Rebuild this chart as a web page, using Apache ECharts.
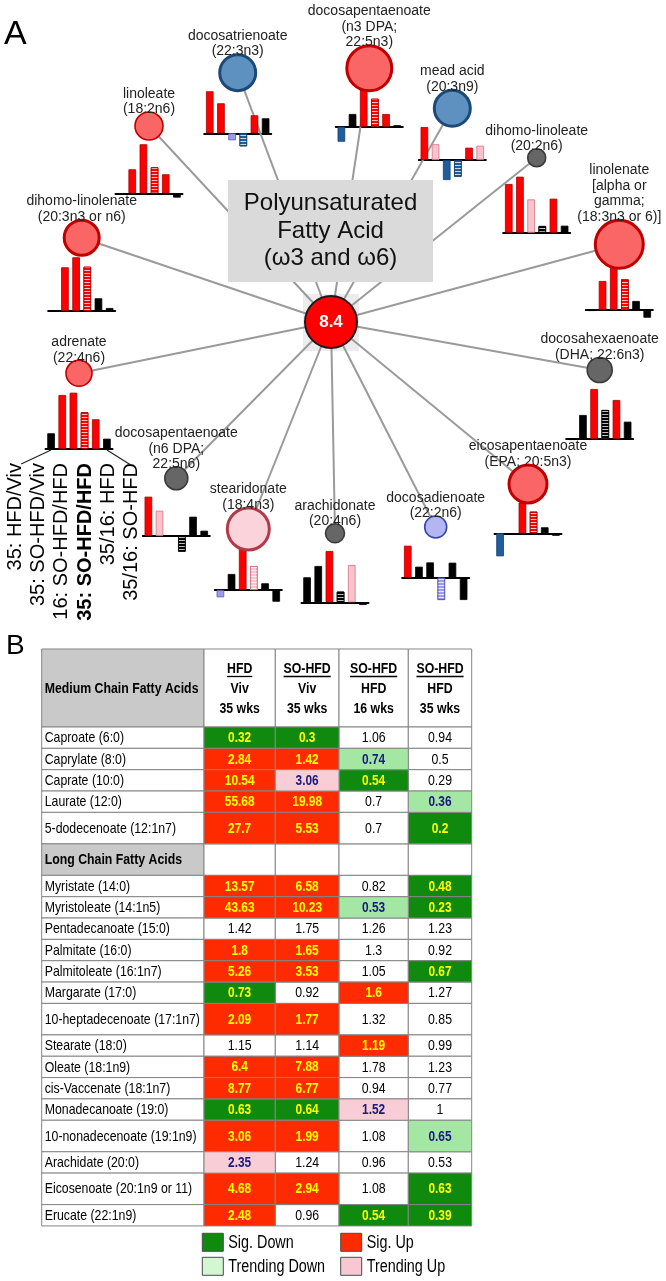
<!DOCTYPE html>
<html>
<head>
<meta charset="utf-8">
<script src="https://cdn.jsdelivr.net/npm/echarts@6/dist/echarts.min.js"></script>
<style>
  html, body { margin: 0; padding: 0; background: #fff; }
  #chart { width: 666px; height: 1281px; }
</style>
</head>
<body>
<div id="chart"></div>
<script>
// ---------- panel A data ----------
const centerValue = '8.4'
const acidLabels = [
  'docosatrienoate\n(22:3n3)',
  'docosapentaenoate\n(n3 DPA;\n22:5n3)',
  'mead acid\n(20:3n9)',
  'dihomo-linoleate\n(20:2n6)',
  'linolenate\n[alpha or\ngamma;\n(18:3n3 or 6)]',
  'docosahexaenoate\n(DHA; 22:6n3)',
  'eicosapentaenoate\n(EPA; 20:5n3)',
  'docosadienoate\n(22:2n6)',
  'arachidonate\n(20:4n6)',
  'stearidonate\n(18:4n3)',
  'docosapentaenoate\n(n6 DPA;\n22:5n6)',
  'adrenate\n(22:4n6)',
  'dihomo-linolenate\n(20:3n3 or n6)',
  'linoleate\n(18:2n6)'
]
// U sig up, u trending up, n not sig, D sig down, d trending down
const acidStatus = ['D', 'U', 'D', 'n', 'U', 'n', 'U', 'd', 'n', 'u', 'n', 'U', 'U', 'U']
const barGroups = ['35: HFD/Viv', '35: SO-HFD/Viv', '16: SO-HFD/HFD', '35: SO-HFD/HFD', '35/16: HFD', '35/16: SO-HFD']
// bar heights (relative units, no axis in the source)
const barHeights = [
  [42, 30, -7, -13, 18, 15],
  [-15, 12.7, 37, 28, 12.7, 1.5],
  [33, 15.7, -20, -16.7, 12.3, 14.3],
  [48.7, 56, 33.3, 6.7, 34, 7],
  [-1, 29, 46.7, 30.7, 9, -7.7],
  [-1, 24, 50, 29, 39, 17.3],
  [-23, -1.5, 30.7, 21.7, 6, -2.5],
  [32, 11, 15.3, -22.3, 15, -22.3],
  [25, 36.3, 51.3, 10.7, 37.3, -2.7],
  [-7.3, 16, 41.7, 24, 6.7, -11.7],
  [39.3, 25.3, 0, -15.7, 19.3, 5.3],
  [15.7, 54, 56.3, 36.7, 29.7, 10.3],
  [0.5, 43.7, 53.7, 44.3, 12.7, 3],
  [-1, 24, 49, 26, 19, -4.3]
]
const barStatus = ['UUdDUn', 'DnUUUn', 'UuDDUu', 'UUunUn', 'nUUUnn', 'nnUnUn', 'DnUUnn',
  'Unndnn', 'nnUnun', 'dnUunn', 'Uunnnn', 'nUUUUn', 'nUUUnn', 'nUUUUn']

// ---------- panel B data ----------
const colTop = ['HFD', 'SO-HFD', 'SO-HFD', 'SO-HFD']
const colMid = ['Viv', 'Viv', 'HFD', 'HFD']
const colWeeks = ['35 wks', '35 wks', '16 wks', '35 wks']
const mediumAcids = ['Caproate (6:0)', 'Caprylate (8:0)', 'Caprate (10:0)', 'Laurate (12:0)', '5-dodecenoate (12:1n7)']
const mediumValues = [
  [0.32, 0.3, 1.06, 0.94],
  [2.84, 1.42, 0.74, 0.5],
  [10.54, 3.06, 0.54, 0.29],
  [55.68, 19.98, 0.7, 0.36],
  [27.7, 5.53, 0.7, 0.2]
]
const mediumStatus = ['DDnn', 'UUdn', 'UuDn', 'UUnd', 'UUnD']
const longAcids = ['Myristate (14:0)', 'Myristoleate (14:1n5)', 'Pentadecanoate (15:0)', 'Palmitate (16:0)',
  'Palmitoleate (16:1n7)', 'Margarate (17:0)', '10-heptadecenoate (17:1n7)', 'Stearate (18:0)',
  'Oleate (18:1n9)', 'cis-Vaccenate (18:1n7)', 'Monadecanoate (19:0)', '10-nonadecenoate (19:1n9)',
  'Arachidate (20:0)', 'Eicosenoate (20:1n9 or 11)', 'Erucate (22:1n9)']
const longValues = [
  [13.57, 6.58, 0.82, 0.48],
  [43.63, 10.23, 0.53, 0.23],
  [1.42, 1.75, 1.26, 1.23],
  [1.8, 1.65, 1.3, 0.92],
  [5.26, 3.53, 1.05, 0.67],
  [0.73, 0.92, 1.6, 1.27],
  [2.09, 1.77, 1.32, 0.85],
  [1.15, 1.14, 1.19, 0.99],
  [6.4, 7.88, 1.78, 1.23],
  [8.77, 6.77, 0.94, 0.77],
  [0.63, 0.64, 1.52, 1],
  [3.06, 1.99, 1.08, 0.65],
  [2.35, 1.24, 0.96, 0.53],
  [4.68, 2.94, 1.08, 0.63],
  [2.48, 0.96, 0.54, 0.39]
]
const longStatus = ['UUnD', 'UUdD', 'nnnn', 'UUnn', 'UUnD', 'DnUn', 'UUnn', 'nnUn', 'UUnn', 'UUnn',
  'DDun', 'UUnd', 'unnn', 'UUnD', 'UnDD']

// ---------- layout & style ----------
const SANS = 'Liberation Sans, Arial, sans-serif'
const NARROW_X = 0.82   // no narrow face installed: squeeze Liberation Sans instead
// node centre x, y, diameter, baseline of its little bar chart
const nodeLayout = [
  [237.7, 72.7, 36, 133.3], [369.3, 68.3, 45, 126.7], [452.3, 108.3, 36, 160],
  [536.7, 157.7, 18, 232.7], [619.3, 244.3, 48, 310], [599.7, 370, 25, 439],
  [528, 484, 38, 533.3], [435.7, 527, 22, 577.7], [335, 533.3, 19, 602.3],
  [248.3, 529, 42, 590], [176.3, 478.3, 23, 536], [79, 373.3, 26, 449],
  [81.7, 237.7, 35, 311], [149, 126, 28, 193.3]
]
const centerPos = [331, 322, 52]
const nodeFill = { U: '#fa6565', u: '#fbd3da', n: '#666666', D: '#5f91c0', d: '#b3b6f2' }
const nodeBorder = { U: '#c00000', u: '#b23a48', n: '#3a3a3a', D: '#1b4a78', d: '#3548a8' }
const barFill = { U: '#ff0000', u: '#f9c3cd', n: '#000000', D: '#1f5d9c', d: '#9c9cec' }
const barBorder = { U: '#a50000', u: '#d9707f', n: '#000000', D: '#123f6e', d: '#5a5ab0' }
const chartW = 67

const colEdges = [41.7, 204, 275.3, 339, 408.3, 471.7]
const tableTop = 649
const headerH = 78
const rowH = 21.34
const tallH = 31.5
const tallRows = ['5-dodecenoate (12:1n7)', 'Long Chain Fatty Acids', '10-heptadecenoate (17:1n7)',
  '10-nonadecenoate (19:1n9)', 'Eicosenoate (20:1n9 or 11)']
const statusNames = { D: 'Sig. Down', U: 'Sig. Up', d: 'Trending Down', u: 'Trending Up', n: 'none' }
const cellFill = { D: '#0f8a0f', U: '#ff2b00', d: '#a4e7a4', u: '#f8cdd6', n: '#ffffff' }
const cellText = { D: '#ffff00', U: '#ffff00', d: '#1a1a7e', u: '#1a1a7e', n: '#000000' }
const legendFill = { D: '#0f8a0f', U: '#ff2b00', d: '#d3f6d3', u: '#f6c8d3' }

const mctx = document.createElement('canvas').getContext('2d')
function textWidth (t, font) {
  mctx.font = font
  return mctx.measureText(t).width
}
// horizontally squeezed text element
function narrowText (t, x, y, opts) {
  return {
    type: 'text', x, y, scaleX: NARROW_X,
    style: Object.assign({ text: t, x: 0, y: 0, verticalAlign: 'middle', fontFamily: SANS }, opts)
  }
}

// table rows
const rows = [{ kind: 'head', name: 'Medium Chain Fatty Acids' }]
mediumAcids.forEach((n, i) => rows.push({ kind: 'acid', name: n, values: mediumValues[i], status: mediumStatus[i] }))
rows.push({ kind: 'section', name: 'Long Chain Fatty Acids' })
longAcids.forEach((n, i) => rows.push({ kind: 'acid', name: n, values: longValues[i], status: longStatus[i] }))
const yEdges = [tableTop]
rows.forEach(r => {
  const h = r.kind === 'head' ? headerH : (tallRows.includes(r.name) ? tallH : rowH)
  yEdges.push(yEdges[yEdges.length - 1] + h)
})

let chart = echarts.init(document.getElementById('chart'))

const grid = [{ left: 0, top: 0, width: 666, height: 1281, outerBoundsMode: 'none' }]
const xAxis = [{ gridIndex: 0, type: 'value', min: 0, max: 666, show: false }]
const yAxis = [{ gridIndex: 0, type: 'value', min: 0, max: 1281, inverse: true, show: false }]
const series = []

// network: centre node + one spoke per fatty acid
const graphNodes = [{
  name: 'centre',
  value: [centerPos[0], centerPos[1]],
  symbolSize: centerPos[2],
  itemStyle: { color: '#ff0000', borderColor: '#1a1a1a', borderWidth: 2 },
  label: { show: true, position: 'inside', formatter: centerValue, color: '#fff', fontWeight: 'bold', fontSize: 17, fontFamily: SANS }
}]
acidLabels.forEach((lab, i) => {
  const [cx, cy, d] = nodeLayout[i]
  const s = acidStatus[i]
  graphNodes.push({
    name: lab,
    value: [cx, cy],
    symbolSize: d,
    itemStyle: { color: nodeFill[s], borderColor: nodeBorder[s], borderWidth: d >= 35 ? 3 : 1.6 },
    label: { show: true, position: 'top', distance: -6, formatter: () => lab, color: '#222', fontSize: 14, lineHeight: 15.5, fontFamily: SANS, align: 'center' }
  })
})
series.push({
  type: 'graph',
  coordinateSystem: 'cartesian2d',
  xAxisIndex: 0,
  yAxisIndex: 0,
  symbol: 'circle',
  data: graphNodes,
  links: acidLabels.map(l => ({ source: 'centre', target: l })),
  lineStyle: { color: '#9a9a9a', width: 2, opacity: 1, curveness: 0 },
  emphasis: { disabled: true },
  silent: true
})

// little bar chart under each node
acidLabels.forEach((lab, i) => {
  const [cx, , , base] = nodeLayout[i]
  const gi = grid.length
  grid.push({ left: cx - chartW / 2, top: base - 60, width: chartW, height: 90, outerBoundsMode: 'none' })
  xAxis.push({
    gridIndex: gi, type: 'category', data: barGroups,
    axisLine: { show: true, onZero: true, lineStyle: { color: '#000', width: 2 } },
    axisTick: { show: false }, axisLabel: { show: false }, splitLine: { show: false }
  })
  yAxis.push({ gridIndex: gi, type: 'value', min: -30, max: 60, show: false })
  series.push({
    type: 'bar',
    xAxisIndex: gi,
    yAxisIndex: gi,
    barWidth: 7.6,
    silent: true,
    data: barHeights[i].map((v, j) => {
      const s = barStatus[i][j]
      const item = { value: v, itemStyle: { color: barFill[s], borderColor: barBorder[s], borderWidth: 0.8 } }
      if (j === 3) {
        item.itemStyle.decal = {
          symbol: 'rect', symbolSize: 1, color: 'rgba(255,255,255,0.75)',
          dashArrayX: [2, 0], dashArrayY: [1, 2], rotation: 0
        }
      }
      return item
    })
  })
})

// group labels fanned out under the adrenate chart
const adr = nodeLayout[11]
const labGrid = { left: 3.5, width: 140, top: adr[3] - 10, height: 23 }
const labGi = grid.length
grid.push(Object.assign({ outerBoundsMode: 'none' }, labGrid))
xAxis.push({
  gridIndex: labGi, type: 'category', data: barGroups,
  axisLine: { show: false }, axisTick: { show: false },
  axisLabel: {
    interval: 0, rotate: 90, margin: 1, color: '#000', fontSize: 20, fontFamily: SANS,
    formatter: (v, idx) => idx === 3 ? '{b|' + v + '}' : v,
    rich: { b: { fontWeight: 'bold', fontSize: 20, fontFamily: SANS, color: '#000' } }
  }
})
yAxis.push({ gridIndex: labGi, type: 'value', min: 0, max: 1, show: false })
const adrLeft = adr[0] - chartW / 2
const band = chartW / 6
const labBand = labGrid.width / 6
const labTop = labGrid.top + labGrid.height

// ---------- table ----------
function cellRect (api, c, r) {
  const p0 = api.coord([colEdges[c], yEdges[r]])
  const p1 = api.coord([colEdges[c + 1], yEdges[r + 1]])
  return { x: p0[0], y: p0[1], width: p1[0] - p0[0], height: p1[1] - p0[1] }
}
const stroke = { stroke: '#858585', lineWidth: 1 }

// row frame: name column, header block, section row
series.push({
  type: 'custom',
  name: 'frame',
  xAxisIndex: 0,
  yAxisIndex: 0,
  silent: true,
  data: rows.map((r, i) => [0, i]),
  renderItem: (params, api) => {
    const ri = api.value(1)
    const row = rows[ri]
    const children = []
    const nr = cellRect(api, 0, ri)
    const grey = row.kind !== 'acid'
    children.push({ type: 'rect', shape: nr, style: Object.assign({ fill: grey ? '#c9c9c9' : '#fff' }, stroke) })
    children.push(narrowText(row.name, nr.x + 3, nr.y + nr.height / 2 + 0.5, {
      align: 'left', fill: '#000', fontSize: 15, fontWeight: grey ? 'bold' : 'normal'
    }))
    if (row.kind !== 'acid') {
      for (let c = 1; c <= 4; c++) {
        const cr = cellRect(api, c, ri)
        children.push({ type: 'rect', shape: cr, style: Object.assign({ fill: '#fff' }, stroke) })
        if (row.kind === 'head') {
          const mx = cr.x + cr.width / 2
          const my = cr.y + cr.height / 2
          const lines = [colTop[c - 1], colMid[c - 1], colWeeks[c - 1]]
          lines.forEach((t, k) => {
            children.push(narrowText(t, mx, my + (k - 1) * 20 + 1, { align: 'center', fill: '#000', fontSize: 15, fontWeight: 'bold' }))
          })
          const w = textWidth(colTop[c - 1], 'bold 15px ' + SANS) * NARROW_X
          children.push({ type: 'line', shape: { x1: mx - w / 2, y1: my - 11.5, x2: mx + w / 2, y2: my - 11.5 }, style: { stroke: '#000', lineWidth: 1.3 } })
        }
      }
    }
    return { type: 'group', children }
  }
})

// value cells, one series per significance class
;['n', 'D', 'U', 'd', 'u'].forEach(s => {
  const data = []
  rows.forEach((r, ri) => {
    if (r.kind !== 'acid') return
    r.values.forEach((v, c) => { if (r.status[c] === s) data.push([c + 1, ri, v]) })
  })
  series.push({
    type: 'custom',
    name: statusNames[s],
    xAxisIndex: 0,
    yAxisIndex: 0,
    silent: true,
    itemStyle: { color: cellFill[s] },
    data,
    renderItem: (params, api) => {
      const cr = cellRect(api, api.value(0), api.value(1))
      return {
        type: 'group',
        children: [
          { type: 'rect', shape: cr, style: Object.assign({ fill: cellFill[s] }, stroke) },
          narrowText(String(api.value(2)), cr.x + cr.width / 2, cr.y + cr.height / 2 + 0.5, {
            align: 'center', fill: cellText[s],
            fontSize: s === 'n' ? 15 : 14.5, fontWeight: s === 'n' ? 'normal' : 'bold'
          })
        ]
      }
    }
  })
})

// legend boxes under the table
const legendItems = [['D', 202.3, 1233.3], ['d', 202.3, 1257.3], ['U', 340.7, 1233.3], ['u', 340.7, 1257.3]]
const legendGraphics = []
legendItems.forEach(([s, lx, ly]) => {
  legendGraphics.push({ type: 'rect', z: 11, shape: { x: lx, y: ly, width: 21, height: 18 }, style: { fill: legendFill[s], stroke: '#4a4a4a', lineWidth: 1 } })
  legendGraphics.push(Object.assign(narrowText(statusNames[s], lx + 26, ly + 10, { align: 'left', fill: '#000', fontSize: 17.5 }), { z: 11 }))
})

chart.setOption({
  animation: false,
  textStyle: { fontFamily: SANS },
  grid,
  xAxis,
  yAxis,
  graphic: [
    { type: 'rect', z: 1, shape: { x: centerPos[0] - 28, y: centerPos[1] - 28, width: 56, height: 57 }, style: { fill: '#ececec' } },
    { type: 'rect', z: 10, shape: { x: 228, y: 180, width: 205, height: 102 }, style: { fill: '#dadada' } },
    {
      type: 'text', z: 11, x: 330.5, y: 231,
      style: { text: 'Polyunsaturated\nFatty Acid\n(ω3 and ω6)', align: 'center', verticalAlign: 'middle', fill: '#111', fontSize: 24, lineHeight: 27.5, fontFamily: SANS }
    },
    { type: 'text', z: 11, x: 4, y: 35, style: { text: 'A', verticalAlign: 'middle', fill: '#000', fontSize: 34, fontFamily: SANS } },
    { type: 'text', z: 11, x: 6, y: 646, style: { text: 'B', verticalAlign: 'middle', fill: '#000', fontSize: 28, fontFamily: SANS } },
    { type: 'line', z: 11, shape: { x1: adrLeft + band / 2, y1: adr[3] + 1, x2: labGrid.left + labBand / 2 + 6, y2: labTop + 2 }, style: { stroke: '#222', lineWidth: 1.2 } },
    { type: 'line', z: 11, shape: { x1: adrLeft + band * 5.5, y1: adr[3] + 1, x2: labGrid.left + labBand * 5.5 - 1, y2: labTop + 3 }, style: { stroke: '#222', lineWidth: 1.2 } }
  ].concat(legendGraphics),
  series
})
</script>
</body>
</html>
